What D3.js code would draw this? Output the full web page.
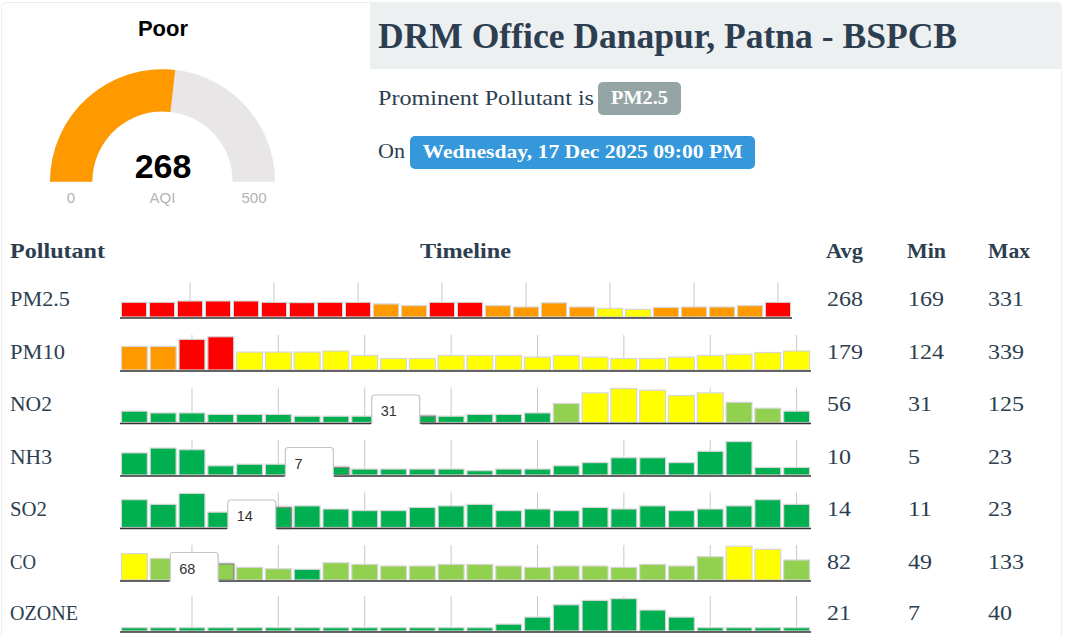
<!DOCTYPE html>
<html><head><meta charset="utf-8">
<style>html,body{margin:0;padding:0;background:#fff}svg{display:block}</style>
<script src="https://cdn.jsdelivr.net/npm/d3@7/dist/d3.min.js"></script>
</head><body><svg id="c" width="1065" height="637"></svg>
<script>
const pollutants=["PM2.5","PM10","NO2","NH3","SO2","CO","OZONE"];
const avgs=[268,179,56,10,14,82,21];
const mins=[169,124,31,5,11,49,7];
const maxs=[331,339,125,23,23,133,40];
const pm25=[305,305,331,331,331,305,300,305,305,273,240,305,305,240,214,295,214,188,169,205,214,214,240,305];
const pm10=[243,243,313,339,187,187,187,198,153,124,124,153,153,153,137,153,137,124,124,137,153,165,183,198];
const no2=[48,42,42,37,37,37,31,31,31,31,31,31,37,37,42,74,110,125,119,101,110,78,58,48];
const nh3=[16,19,18,8,9,9,9,7,6,6,6,6,5,6,6,8,10,13,13,10,17,23,7,7];
const so2=[19,16,23,11,13,14,15,13,12,12,14,15,16,12,13,12,14,13,15,12,13,15,19,16];
const co=[106,89,85,68,56,51,49,73,67,61,61,67,67,61,56,61,61,56,67,61,95,133,122,83];
const ozone=[7,7,7,7,7,7,7,7,7,7,7,7,7,11,19,33,38,40,27,19,7,7,7,7];
const series=[pm25,pm10,no2,nh3,so2,co,ozone];
const yDomains=[[0,700],[0,356],[6.2,128.4],[1.7,24],[0.5,23.6],[6.3,137.7],[2.1,43]];
const bandLimits=[50,100,200,300];
const bandColors=["#00b050","#92d050","#ffff00","#ff9900","#ff0000"];
const tipIndex=[null,null,10,7,5,3,null];
const aqi=268,aqiMax=500;

const svg=d3.select("#c");
const ink="#2c3e50",serif="'Liberation Serif',serif",sans="'Liberation Sans',Arial,sans-serif";
const defs=svg.append("defs");
const sh=defs.append("filter").attr("id","sh").attr("x","-30%").attr("y","-30%").attr("width","160%").attr("height","160%");
sh.append("feDropShadow").attr("dx",0).attr("dy",0).attr("stdDeviation",1.5).attr("flood-color","#000").attr("flood-opacity",.3);
const color=d3.scaleThreshold().domain(bandLimits).range(bandColors);

// card and title band
svg.append("rect").attr("x",1.5).attr("y",2.5).attr("width",1060).attr("height",660).attr("rx",5).attr("fill","#fff").attr("stroke","#eeeeee");
svg.append("path").attr("d","M370 2.5H1057a5 5 0 0 1 5 5V69H370Z").attr("fill","#ecf0f1");
function txt(s,x,y,size,opt={}){
  const t=svg.append("text").attr("x",x).attr("y",y).attr("font-size",size)
   .attr("font-family",opt.family||serif).attr("font-weight",opt.weight||"normal")
   .attr("fill",opt.fill||ink).attr("text-anchor",opt.anchor||"start").text(s);
  if(opt.len){t.attr("textLength",opt.len).attr("lengthAdjust","spacingAndGlyphs");}
  return t;
}
txt("DRM Office Danapur, Patna - BSPCB",378,48,36,{weight:"bold",len:579});
txt("Prominent Pollutant is",378,105,22,{len:216});
svg.append("rect").attr("x",598).attr("y",82).attr("width",83).attr("height",33).attr("rx",5).attr("fill","#95a5a6");
txt("PM2.5",639.5,104,19,{weight:"bold",fill:"#fff",anchor:"middle",len:57});
txt("On",378,158,22,{len:27});
svg.append("rect").attr("x",410).attr("y",136).attr("width",345).attr("height",33).attr("rx",5).attr("fill","#3498db");
txt("Wednesday, 17 Dec 2025 09:00 PM",582.5,158,19,{weight:"bold",fill:"#fff",anchor:"middle",len:320});

// gauge
const gx=162.5,gy=181.7,ro=112.5,ri=70.2;
const ang=d3.scaleLinear().domain([0,aqiMax]).range([-Math.PI/2,Math.PI/2]);
const arc=d3.arc().innerRadius(ri).outerRadius(ro);
const g=svg.append("g").attr("transform",`translate(${gx},${gy})`);
g.append("path").attr("d",arc({startAngle:ang(0),endAngle:ang(aqiMax)})).attr("fill","#e8e6e6");
g.append("path").attr("d",arc({startAngle:ang(0),endAngle:ang(aqi)})).attr("fill","#ff9900");
txt("Poor",163,36,22,{family:sans,weight:"bold",fill:"#000",anchor:"middle"});
txt(aqi,163,178,34,{family:sans,weight:"bold",fill:"#000",anchor:"middle"});
txt("0",71,203,15,{family:sans,fill:"#b3b3b3",anchor:"middle"});
txt("AQI",162.5,203,15,{family:sans,fill:"#b3b3b3",anchor:"middle"});
txt("500",254,203,15,{family:sans,fill:"#b3b3b3",anchor:"middle"});

// table header
txt("Pollutant",10,258,22,{weight:"bold",len:95});
txt("Timeline",465.5,258,22,{weight:"bold",anchor:"middle",len:91});
txt("Avg",826,258,22,{weight:"bold",len:37});
txt("Min",907,258,22,{weight:"bold",len:39});
txt("Max",988,258,22,{weight:"bold",len:42});

// rows
const baselines=[318,371,423.5,476,528.5,581,632];
const rights=[792,811,811,811,811,811,811];
const labelWidths=[60,55,42,42,37,26,68];
const chartH=36;
const num=(s,x,y)=>txt(s,x,y,22,{len:String(s).length*12});
series.forEach((vals,r)=>{
  const base=baselines[r];
  txt(pollutants[r],10,base-12.5,22,{len:labelWidths[r]});
  num(avgs[r],827,base-12.5);
  num(mins[r],908,base-12.5);
  num(maxs[r],988,base-12.5);
  const x=d3.scaleBand().domain(d3.range(vals.length)).range([120,rights[r]]).paddingInner(.1).paddingOuter(.05);
  const y=d3.scaleLinear().domain(yDomains[r]).range([base,base-chartH]);
  const row=svg.append("g");
  row.selectAll("line.t").data(d3.range(2,vals.length,3)).join("line")
    .attr("x1",i=>x(i)+x.bandwidth()/2).attr("x2",i=>x(i)+x.bandwidth()/2)
    .attr("y1",base).attr("y2",base-chartH).attr("stroke","#c8c8c8").attr("stroke-width",1);
  row.selectAll("rect.b").data(vals).join("rect")
    .attr("x",(d,i)=>x(i)).attr("width",x.bandwidth())
    .attr("y",d=>y(d)).attr("height",d=>base-y(d)-1)
    .attr("fill",d=>color(d)).attr("stroke","#d6d6d6").attr("stroke-width",1.2);
  row.append("line").attr("x1",120).attr("x2",rights[r]).attr("y1",base).attr("y2",base).attr("stroke","#333").attr("stroke-width",1.4);
  const ti=tipIndex[r];
  if(ti!==null){
    const v=vals[ti];
    row.append("rect").attr("x",x(ti)).attr("width",x.bandwidth()).attr("y",y(v)).attr("height",base-y(v)-1)
      .attr("fill",color(v)).attr("stroke","#888").attr("stroke-width",1.2).attr("filter","url(#sh)");
    const tx=x(ti)+x.step()/2-52;
    const ty=base-28.5;
    row.append("path").attr("d",`M${tx} ${ty+32}V${ty+3}a3 3 0 0 1 3 -3H${tx+45}a3 3 0 0 1 3 3V${ty+32}Z`)
      .attr("fill","#fff").attr("stroke","#c4c4c4").attr("stroke-width",1.2);
    row.append("rect").attr("x",tx-1).attr("y",ty+29).attr("width",50).attr("height",4).attr("fill","#fff");
    txt(v,tx+9,ty+21,14.5,{family:sans,fill:"#333"});
  }
});
</script></body></html>
